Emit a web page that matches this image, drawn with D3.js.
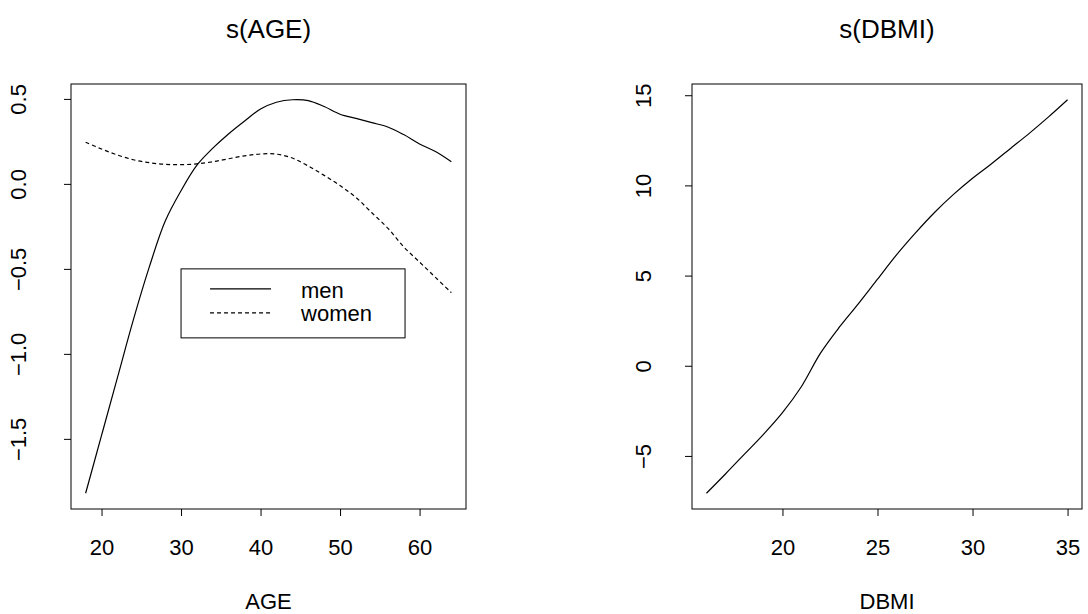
<!DOCTYPE html>
<html>
<head>
<meta charset="utf-8">
<script src="https://cdn.jsdelivr.net/npm/d3@7"></script>
<style>
  body { margin: 0; background: #fff; }
  svg { display: block; font-family: "Liberation Sans", Arial, Helvetica, sans-serif; }
</style>
</head>
<body>
<script>
// smooth terms
const ageValues = [18, 20, 22, 24, 26, 28, 30, 32, 34, 36, 38, 40, 42, 44, 46, 48, 50, 52, 54, 56, 58, 60, 62, 64];
const menFit = [-1.82, -1.48, -1.14, -0.80, -0.49, -0.22, -0.04, 0.11, 0.21, 0.295, 0.37, 0.44, 0.48, 0.495, 0.49, 0.455, 0.41, 0.385, 0.36, 0.335, 0.29, 0.235, 0.19, 0.13];
const womenFit = [0.245, 0.205, 0.17, 0.142, 0.125, 0.115, 0.113, 0.118, 0.13, 0.148, 0.165, 0.176, 0.175, 0.152, 0.105, 0.05, -0.01, -0.08, -0.17, -0.26, -0.37, -0.46, -0.55, -0.64];

const dbmiValues = [16, 17, 18, 19, 20, 21, 22, 23, 24, 25, 26, 27, 28, 29, 30, 31, 32, 33, 34, 35];
const dbmiFit = [-7.07, -6.0, -4.9, -3.8, -2.6, -1.15, 0.7, 2.15, 3.45, 4.8, 6.15, 7.37, 8.5, 9.5, 10.4, 11.2, 12.05, 12.9, 13.8, 14.75];

const ageTicks = [20, 30, 40, 50, 60];
const ageYTicks = [-1.5, -1.0, -0.5, 0.0, 0.5];
const dbmiTicks = [20, 25, 30, 35];
const dbmiYTicks = [-5, 0, 5, 10, 15];
const legendLabels = ["men", "women"];

const W = 1088, H = 614;
const svg = d3.select("body").append("svg").attr("width", W).attr("height", H);

// R style: pad the data range by 4%
function rDomain(vals) {
  const [lo, hi] = d3.extent(vals);
  const p = (hi - lo) * 0.04;
  return [lo - p, hi + p];
}

function panel(opts) {
  const { left, right, top, bottom, xVals, ySeries, xTicks, yTicks, yFmt, title, xlab, yLabOff } = opts;
  const g = svg.append("g");
  const x = d3.scaleLinear().domain(rDomain(xVals)).range([left, right]);
  const y = d3.scaleLinear().domain(rDomain(ySeries.flat())).range([bottom, top]);

  g.append("rect")
    .attr("x", left).attr("y", top)
    .attr("width", right - left).attr("height", bottom - top)
    .attr("fill", "none").attr("stroke", "#000").attr("stroke-width", 1);

  const xa = g.append("g")
    .attr("transform", `translate(0,${bottom})`)
    .call(d3.axisBottom(x).tickValues(xTicks).tickSize(7).tickFormat(d3.format("d")));
  xa.select(".domain").remove();
  xa.selectAll("line").attr("stroke", "#000");
  xa.selectAll("text").attr("y", 46).attr("dy", 0)
    .attr("font-size", 22).attr("fill", "#000").attr("font-family", null);

  const ya = g.append("g")
    .attr("transform", `translate(${left},0)`)
    .call(d3.axisLeft(y).tickValues(yTicks).tickSize(7).tickFormat(yFmt));
  ya.select(".domain").remove();
  ya.selectAll("line").attr("stroke", "#000");
  ya.selectAll("text")
    .attr("x", null).attr("dy", 0)
    .attr("transform", `translate(${-yLabOff},0) rotate(-90)`)
    .attr("text-anchor", "middle")
    .attr("font-size", 22).attr("fill", "#000").attr("font-family", null);

  g.append("text")
    .attr("x", (left + right) / 2).attr("y", 38)
    .attr("text-anchor", "middle").attr("font-size", 26)
    .text(title);

  g.append("text")
    .attr("x", (left + right) / 2).attr("y", 609)
    .attr("text-anchor", "middle").attr("font-size", 22)
    .text(xlab);

  return { g, x, y };
}

// left panel: s(AGE)
const p1 = panel({
  left: 71, right: 466, top: 84, bottom: 509,
  xVals: ageValues, ySeries: [menFit, womenFit],
  xTicks: ageTicks, yTicks: ageYTicks, yFmt: d3.format(".1f"),
  title: "s(AGE)", xlab: "AGE", yLabOff: 45
});

const line1 = d3.line()
  .x((d, i) => p1.x(ageValues[i]))
  .y(d => p1.y(d))
  .curve(d3.curveCatmullRom.alpha(0.5));

p1.g.append("path").datum(menFit)
  .attr("d", line1).attr("fill", "none")
  .attr("stroke", "#000").attr("stroke-width", 1.2);

p1.g.append("path").datum(womenFit)
  .attr("d", line1).attr("fill", "none")
  .attr("stroke", "#000").attr("stroke-width", 1.2)
  .attr("stroke-dasharray", "4,3");

// legend, anchored at (30, -0.5) like legend(30, -0.5, ...)
const lx = p1.x(30), ly = p1.y(-0.5);
const leg = p1.g.append("g").attr("transform", `translate(${lx},${ly})`);
leg.append("rect")
  .attr("width", 224).attr("height", 69)
  .attr("fill", "#fff").attr("stroke", "#000").attr("stroke-width", 1);
legendLabels.forEach((lab, i) => {
  leg.append("line")
    .attr("x1", 29).attr("x2", 90)
    .attr("y1", 20 + i * 24).attr("y2", 20 + i * 24)
    .attr("stroke", "#000").attr("stroke-width", 1.2)
    .attr("stroke-dasharray", i === 1 ? "4,3" : null);
  leg.append("text")
    .attr("x", 120).attr("y", 29 + i * 23)
    .attr("font-size", 22)
    .text(lab);
});

// right panel: s(DBMI)
const p2 = panel({
  left: 692, right: 1082, top: 84, bottom: 509,
  xVals: dbmiValues, ySeries: [dbmiFit],
  xTicks: dbmiTicks, yTicks: dbmiYTicks, yFmt: d3.format("d"),
  title: "s(DBMI)", xlab: "DBMI", yLabOff: 41
});

const line2 = d3.line()
  .x((d, i) => p2.x(dbmiValues[i]))
  .y(d => p2.y(d))
  .curve(d3.curveCatmullRom.alpha(0.5));

p2.g.append("path").datum(dbmiFit)
  .attr("d", line2).attr("fill", "none")
  .attr("stroke", "#000").attr("stroke-width", 1.2);
</script>
</body>
</html>
